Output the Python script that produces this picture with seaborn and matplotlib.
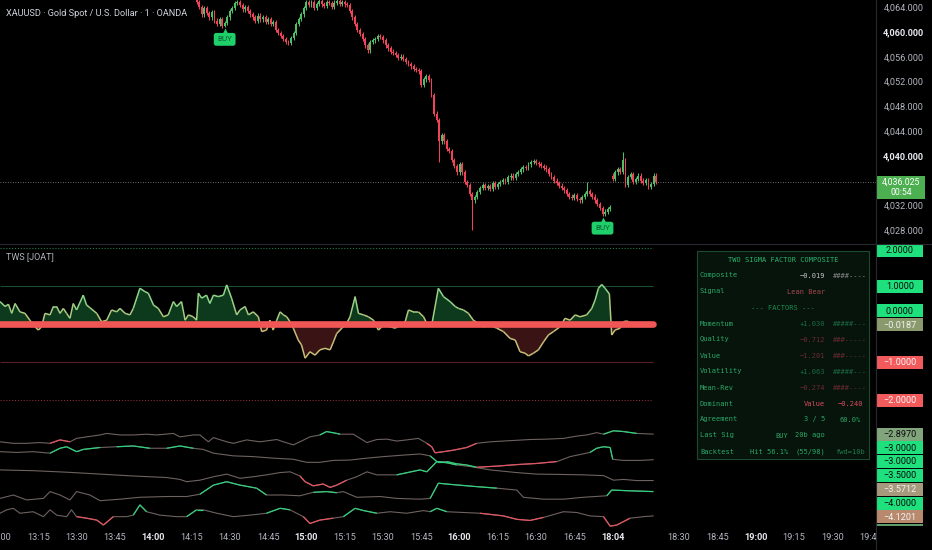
import numpy as np
import pandas as pd
import matplotlib
matplotlib.use("Agg")
import matplotlib.pyplot as plt
import seaborn as sns
import matplotlib.transforms as mtransforms
from matplotlib.collections import LineCollection
from matplotlib.patches import Rectangle
from matplotlib.lines import Line2D
from matplotlib.colors import LinearSegmentedColormap, Normalize

# ---------------------------------------------------------------- data
CANDLE_START = 76          # bar index of first candle (13:00 = bar 0, 1 bar per minute)
closes = [
    4066.0, 4065.0, 4064.2, 4063.0, 4064.0, 4063.2, 4062.5, 4063.4, 4062.0, 4061.5,
    4062.3, 4061.2, 4061.6, 4062.5, 4063.5, 4064.0, 4064.8, 4065.0, 4064.5, 4063.8,
    4064.2, 4063.5, 4063.0, 4062.5, 4062.0, 4062.8, 4062.2, 4062.6, 4061.8, 4062.3,
    4061.5, 4061.8, 4060.5, 4060.0, 4059.5, 4059.0, 4058.5, 4058.4, 4059.2, 4060.0,
    4061.5, 4062.3, 4063.0, 4064.0, 4065.0, 4064.5, 4065.0, 4064.0, 4064.7, 4065.2,
    4064.6, 4064.3, 4065.0, 4064.8, 4064.2, 4064.9, 4065.2, 4064.7, 4065.0, 4064.6,
    4064.5, 4063.5, 4062.5, 4061.5, 4060.5, 4059.8, 4059.0, 4058.0, 4057.2, 4058.5,
    4058.8, 4059.0, 4059.5, 4059.3, 4058.8, 4058.0, 4057.5, 4057.0, 4056.8, 4056.5,
    4056.0, 4056.2, 4055.8, 4055.3, 4055.0, 4054.6, 4054.2, 4054.0, 4053.8, 4051.6,
    4052.5, 4053.0, 4052.4, 4050.0, 4047.0, 4046.0, 4042.5, 4043.5, 4042.5, 4041.3,
    4041.0, 4039.5, 4038.5, 4037.5, 4038.8, 4037.5, 4036.0, 4035.5, 4034.0, 4033.0,
    4033.5, 4034.3, 4035.0, 4035.5, 4035.0, 4035.3, 4034.8, 4035.8, 4035.2, 4035.6,
    4036.0, 4036.3, 4036.0, 4036.7, 4037.0, 4036.6, 4037.3, 4037.6, 4038.0, 4038.4,
    4038.2, 4038.8, 4039.2, 4039.3, 4039.0, 4038.8, 4038.5, 4038.3, 4038.0, 4037.3,
    4036.8, 4036.2, 4035.8, 4035.4, 4035.0, 4034.6, 4034.0, 4033.6, 4033.4, 4033.8,
    4033.2, 4033.0, 4033.5, 4034.0, 4034.5, 4034.0, 4033.6, 4033.0, 4032.4, 4031.8,
    4030.8, 4031.2, 4031.6, 4031.9, 4036.5, 4037.5, 4038.0, 4037.6, 4039.5, 4035.5,
    4036.8, 4037.2, 4036.0, 4036.5, 4037.0, 4036.2, 4035.8, 4036.3, 4035.2, 4035.6,
    4037.0, 4036.025,
]
open_overrides = {240: 4037.0}
low_overrides = {88: 4060.9, 172: 4039.2, 185: 4028.3}
high_overrides = {230: 4036.0, 244: 4040.8}
WICK = 0.35
buy_bars = [88, 236]
last_price = 4036.025
bar_countdown = "00:54"

price_ticks = [4064, 4060, 4056, 4052, 4048, 4044, 4040, 4032, 4028]
bold_prices = [4060, 4040]

time_tick_idx = [0, 15, 30, 45, 60, 75, 90, 105, 120, 135, 150, 165, 180, 195, 210,
                 225, 240, 266, 281, 296, 311, 326, 341]
time_tick_labels = ["13:00", "13:15", "13:30", "13:45", "14:00", "14:15", "14:30", "14:45",
                    "15:00", "15:15", "15:30", "15:45", "16:00", "16:15", "16:30", "16:45",
                    "18:04", "18:30", "18:45", "19:00", "19:15", "19:30", "19:45"]
bold_times = ["14:00", "15:00", "16:00", "18:04", "19:00"]

osc_x = [0, 2.0, 3.3, 4.6, 5.9, 7.8, 9.8, 11.7, 13.1, 15.0,
         16.3, 17.6, 19.6, 20.9, 22.2, 23.5, 24.8, 26.1, 27.4, 28.7,
         30.0, 32.6, 33.9, 35.2, 37.9, 39.8, 41.8, 43.7, 45.7, 47.0,
         49.0, 50.9, 52.2, 54.8, 56.8, 58.1, 60.1, 62.0, 64.0, 65.9,
         67.9, 69.2, 71.1, 72.5, 73.8, 75.7, 77.0, 77.7, 79.0, 80.9,
         82.2, 83.6, 85.5, 87.5, 88.8, 90.7, 92.7, 94.0, 96.0, 97.3,
         99.2, 101.2, 102.5, 104.4, 105.7, 107.0, 108.4, 109.7, 111.0, 112.3,
         113.6, 114.9, 116.8, 118.1, 119.5, 121.4, 123.4, 125.3, 127.3, 129.3,
         130.6, 131.9, 133.9, 135.8, 137.1, 139.1, 140.4, 142.4, 144.3, 146.3,
         148.2, 150.2, 152.8, 154.8, 156.7, 158.7, 160.0, 161.9, 163.9, 165.9,
         167.8, 169.1, 171.7, 173.7, 176.3, 178.3, 179.6, 181.5, 183.5, 185.4,
         189.4, 192.0, 194.6, 197.2, 199.8, 201.8, 203.7, 205.7, 207.0, 208.9,
         210.9, 212.9, 214.8, 216.8, 219.4, 221.3, 223.3, 225.3, 227.2, 229.8,
         231.8, 233.1, 234.4, 235.7, 237.0, 238.7, 239.6, 240.9, 242.9, 244.2,
         245.5, 248.0, 252.0, 255.9]
osc_v = [0.59, 0.46, 0.52, 0.28, 0.54, 0.32, 0.28, 0.10, -0.03, -0.16,
         -0.07, 0.28, 0.24, 0.46, 0.46, 0.28, 0.41, 0.28, 0.15, 0.54,
         0.37, 0.76, 0.50, 0.43, 0.28, 0.06, 0.10, 0.37, 0.32, 0.41,
         0.28, 0.24, 0.41, 0.94, 0.85, 0.81, 0.50, 0.41, 0.19, 0.24,
         0.59, 0.46, 0.59, 0.10, 0.24, 0.19, 0.10, 0.81, 0.68, 0.76,
         0.54, 0.76, 0.72, 0.76, 1.03, 0.68, 0.24, 0.37, 0.46, 0.24,
         0.32, 0.19, -0.20, -0.16, 0.10, -0.16, 0.10, 0.32, 0.24, 0.19,
         0.06, -0.11, -0.42, -0.55, -0.90, -0.73, -0.82, -0.68, -0.64, -0.68,
         -0.47, -0.25, -0.11, 0.02, 0.19, 0.72, 0.28, 0.24, 0.19, 0.10,
         -0.16, -0.03, -0.07, -0.11, -0.03, 0.06, 0.37, 0.32, 0.32, 0.19,
         -0.07, -0.03, 0.94, 0.72, 0.59, 0.46, 0.41, 0.37, 0.28, 0.10,
         -0.07, -0.03, -0.11, -0.20, -0.38, -0.42, -0.73, -0.77, -0.84, -0.77,
         -0.68, -0.47, -0.29, -0.20, -0.07, 0.15, 0.10, 0.24, 0.19, 0.24,
         0.41, 0.63, 0.94, 1.04, 0.94, 0.79, -0.29, -0.16, -0.11, 0.06,
         0.08, -0.01, -0.02, -0.0187]
zero_line_value = 0.0
level_values = [2.0, 1.0, -1.0, -2.0]

# factor lines: (bar index, value, state n/g/r)
factor_a = [(0, -3.10, 'n'), (5.2, -3.14, 'n'), (10.4, -3.14, 'n'), (15.7, -3.12, 'n'), (19.6, -3.14, 'n'),
            (23.5, -3.05, 'r'), (27.4, -3.10, 'n'), (30.0, -3.01, 'n'), (33.9, -2.97, 'n'), (39.2, -2.92, 'n'),
            (41.8, -2.88, 'n'), (47.0, -2.92, 'n'), (52.2, -2.92, 'n'), (57.4, -2.90, 'n'), (61.4, -2.92, 'n'),
            (67.9, -2.88, 'n'), (70.5, -2.97, 'n'), (75.7, -2.92, 'n'), (78.3, -2.92, 'n'), (81.6, -3.10, 'n'),
            (83.6, -2.99, 'n'), (88.8, -3.10, 'n'), (91.4, -3.14, 'n'), (96.6, -3.05, 'n'), (101.8, -3.10, 'n'),
            (108.4, -3.04, 'n'), (111.0, -3.10, 'n'), (114.9, -3.18, 'n'), (117.5, -3.10, 'n'), (121.4, -2.97, 'n'),
            (125.3, -2.92, 'n'), (127.9, -2.83, 'g'), (131.9, -2.88, 'g'), (133.2, -2.90, 'n'), (138.4, -2.90, 'n'),
            (143.7, -3.12, 'n'), (147.6, -3.04, 'n'), (151.5, -3.03, 'n'), (155.4, -3.08, 'n'), (159.3, -3.05, 'n'),
            (163.9, -3.01, 'n'), (167.2, -3.14, 'n'), (169.1, -3.23, 'r'), (170.4, -3.39, 'r'), (173.7, -3.36, 'r'),
            (177.6, -3.32, 'r'), (182.8, -3.25, 'r'), (186.7, -3.14, 'n'), (192.0, -3.10, 'n'), (199.8, -3.07, 'n'),
            (207.6, -3.04, 'n'), (214.2, -3.03, 'n'), (220.7, -3.01, 'n'), (225.9, -2.95, 'n'), (229.8, -2.92, 'n'),
            (233.7, -2.86, 'n'), (236.4, -2.90, 'n'), (240.3, -2.81, 'g'), (244.2, -2.83, 'g'), (249.4, -2.88, 'n'),
            (255.9, -2.897, 'n')]
factor_b = [(0, -3.36, 'n'), (6.5, -3.38, 'n'), (13.0, -3.36, 'n'), (19.6, -3.40, 'n'), (23.5, -3.27, 'g'),
            (26.1, -3.23, 'g'), (30.0, -3.36, 'n'), (32.6, -3.30, 'g'), (39.2, -3.25, 'n'), (45.7, -3.23, 'n'),
            (52.2, -3.21, 'g'), (58.7, -3.27, 'n'), (65.3, -3.27, 'n'), (70.5, -3.21, 'g'), (75.7, -3.27, 'n'),
            (79.6, -3.30, 'n'), (83.6, -3.40, 'n'), (91.4, -3.47, 'n'), (99.2, -3.49, 'n'), (107.0, -3.53, 'n'),
            (114.9, -3.56, 'n'), (120.1, -3.64, 'n'), (125.3, -3.64, 'n'), (130.5, -3.59, 'n'), (137.1, -3.58, 'n'),
            (143.7, -3.53, 'n'), (150.2, -3.49, 'n'), (158.0, -3.45, 'n'), (164.5, -3.42, 'n'), (168.5, -3.47, 'n'),
            (171.1, -3.62, 'g'), (175.0, -3.62, 'g'), (178.9, -3.68, 'g'), (182.8, -3.71, 'g'), (186.7, -3.77, 'r'),
            (194.6, -3.74, 'r'), (202.4, -3.70, 'r'), (210.2, -3.67, 'r'), (218.1, -3.62, 'n'), (223.3, -3.49, 'n'),
            (231.1, -3.38, 'n'), (233.7, -3.27, 'g'), (236.4, -3.23, 'g'), (239.0, -3.25, 'g'), (240.0, -3.56, 'n'),
            (244.2, -3.59, 'n'), (250.7, -3.59, 'n'), (255.9, -3.5712, 'n')]
factor_c = [(0, -3.84, 'n'), (13.0, -3.86, 'n'), (26.1, -3.90, 'n'), (39.2, -3.95, 'n'), (52.2, -4.00, 'n'),
            (65.3, -4.04, 'n'), (70.5, -4.09, 'n'), (73.1, -4.15, 'n'), (78.3, -4.11, 'n'), (83.6, -4.02, 'n'),
            (88.8, -3.95, 'n'), (94.0, -4.06, 'n'), (99.2, -4.02, 'n'), (104.4, -3.97, 'n'), (109.7, -3.91, 'n'),
            (113.6, -3.89, 'n'), (117.5, -4.00, 'n'), (119.5, -4.15, 'r'), (122.7, -4.26, 'r'), (126.6, -4.21, 'r'),
            (129.3, -4.30, 'r'), (131.9, -4.24, 'r'), (135.8, -4.11, 'n'), (139.7, -4.02, 'n'), (143.7, -3.89, 'n'),
            (147.6, -3.97, 'n'), (155.4, -3.97, 'n'), (164.5, -3.84, 'g'), (167.2, -3.89, 'n'), (171.1, -3.62, 'g'),
            (175.0, -3.65, 'g'), (178.9, -3.71, 'n'), (184.1, -3.75, 'n'), (192.0, -3.84, 'n'), (202.4, -3.91, 'n'),
            (210.2, -3.95, 'n'), (220.7, -3.96, 'n'), (228.5, -3.97, 'n'), (236.4, -3.99, 'n'), (240.3, -4.11, 'n'),
            (244.2, -4.09, 'n'), (249.4, -4.12, 'n'), (255.9, -4.1201, 'n')]
factor_d = [(0, -4.59, 'n'), (5.2, -4.50, 'n'), (10.4, -4.63, 'n'), (17.0, -4.59, 'n'), (19.6, -4.41, 'n'),
            (23.5, -4.50, 'n'), (27.4, -4.63, 'n'), (30.0, -4.41, 'n'), (35.2, -4.50, 'n'), (39.2, -4.65, 'n'),
            (47.0, -4.61, 'n'), (54.8, -4.56, 'n'), (65.3, -4.54, 'n'), (73.1, -4.54, 'n'), (78.3, -4.48, 'n'),
            (83.6, -4.24, 'g'), (88.8, -4.15, 'g'), (94.0, -4.24, 'g'), (100.5, -4.32, 'g'), (104.4, -4.50, 'n'),
            (111.0, -4.50, 'n'), (117.5, -4.52, 'n'), (122.7, -4.43, 'n'), (127.9, -4.41, 'g'), (131.9, -4.44, 'n'),
            (134.5, -4.41, 'n'), (139.7, -4.56, 'n'), (148.9, -4.54, 'n'), (155.4, -4.59, 'n'), (164.5, -4.61, 'n'),
            (168.5, -4.59, 'n'), (171.7, -4.19, 'g'), (176.3, -4.22, 'g'), (186.7, -4.28, 'g'), (194.6, -4.32, 'n'),
            (202.4, -4.37, 'n'), (205.0, -4.56, 'n'), (212.9, -4.61, 'n'), (220.7, -4.61, 'n'), (228.5, -4.56, 'n'),
            (237.7, -4.52, 'n'), (239.6, -4.37, 'g'), (246.8, -4.39, 'g'), (255.9, -4.41, 'g')]
factor_e = [(0, -4.98, 'n'), (2.6, -4.89, 'n'), (5.2, -4.85, 'n'), (7.8, -4.98, 'n'), (13.0, -4.94, 'n'),
            (17.0, -5.07, 'n'), (19.6, -4.89, 'n'), (22.2, -5.03, 'n'), (26.1, -5.07, 'n'), (28.0, -4.89, 'n'),
            (30.0, -5.07, 'n'), (33.9, -5.11, 'r'), (37.9, -5.16, 'r'), (40.5, -5.29, 'r'), (44.4, -5.07, 'n'),
            (49.6, -5.07, 'n'), (52.2, -5.03, 'n'), (54.8, -4.76, 'g'), (57.4, -4.94, 'n'), (62.7, -5.03, 'n'),
            (69.2, -5.07, 'n'), (73.1, -5.07, 'n'), (77.0, -4.89, 'g'), (79.6, -4.89, 'n'), (84.9, -4.98, 'n'),
            (91.4, -5.07, 'n'), (97.9, -5.03, 'n'), (104.4, -4.98, 'n'), (109.7, -4.85, 'g'), (113.6, -4.89, 'n'),
            (118.8, -5.07, 'n'), (121.4, -5.25, 'r'), (125.3, -5.16, 'r'), (130.5, -5.11, 'n'), (134.5, -5.07, 'n'),
            (139.1, -4.85, 'g'), (142.4, -4.91, 'g'), (147.6, -4.98, 'n'), (152.8, -4.94, 'n'), (159.3, -4.98, 'n'),
            (165.9, -4.91, 'n'), (168.5, -4.94, 'n'), (171.1, -4.85, 'g'), (175.0, -4.94, 'n'), (181.5, -4.96, 'n'),
            (188.0, -4.98, 'n'), (197.2, -5.05, 'r'), (202.4, -5.14, 'r'), (207.6, -5.17, 'r'), (212.9, -5.09, 'n'),
            (220.7, -4.94, 'n'), (225.9, -4.96, 'n'), (231.1, -5.05, 'n'), (236.4, -5.07, 'n'), (239.0, -5.32, 'r'),
            (241.6, -5.29, 'r'), (246.8, -5.11, 'n'), (252.0, -5.07, 'n'), (255.9, -5.05, 'n')]

# right-scale labels of the indicator pane: (value, box colour, text colour)
upper_scale_labels = [(2.0, "#1ee07c", "#0c0c0c"), (1.0, "#1ee07c", "#0c0c0c"),
                      (0.0, "#1ee07c", "#0c0c0c"), (-0.0187, "#8b9a6c", "#f2f2f2"),
                      (-1.0, "#f25a5c", "#f6f6f6"), (-2.0, "#f25a5c", "#f6f6f6")]
lower_scale_labels = [(-2.897, "#82a47c", "#0c0c0c"), (-3.0, "#1ee07c", "#0c0c0c"),
                      (-3.0, "#1ee07c", "#0c0c0c"), (-3.5, "#1ee07c", "#0c0c0c"),
                      (-3.5712, "#a79a7c", "#f2f2f2"), (-4.0, "#1ee07c", "#0c0c0c"),
                      (-4.1201, "#b8896c", "#f2f2f2"), (-4.41, "#5f9c6c", "#0c0c0c")]

# table contents: (label, col2, col3, col4, colours)
G, GD, RD = "#2aa866", "#1d6a42", "#6e2a30"
table_title = "TWO SIGMA FACTOR COMPOSITE"
table_rows = [
    ("Composite", "", "\u22120.019", "####----", (G, G, "#c4c4c4", "#8a8a8a")),
    ("Signal", "", "Lean Bear", "", (G, G, "#a6464e", G)),
    ("--- FACTORS ---", None, None, None, ("#1f8a52",)),
    ("Momentum", "", "+1.030", "#####---", (G, G, GD, GD)),
    ("Quality", "", "\u22120.712", "###-----", (G, G, RD, RD)),
    ("Value", "", "\u22121.201", "###-----", (G, G, RD, RD)),
    ("Volatility", "", "+1.063", "#####---", (G, G, GD, GD)),
    ("Mean-Rev", "", "\u22120.274", "####----", (G, G, RD, RD)),
    ("Dominant", "", "Value", "\u22120.240", (G, G, "#dc4a62", "#dc4a62")),
    ("Agreement", "", "3 / 5", "60.0%", (G, G, G, G)),
    ("Last Sig", "BUY", "20b ago", "", (G, G, G, G)),
    ("Backtest", "Hit 56.1%", "(55/98)", "fwd=10b", (G, G, G, "#1f7a4c")),
]

# ---------------------------------------------------------------- style / layout
W, H, DPI = 932, 550, 100
BG = "#000000"
UP, DOWN = "#4fbf67", "#f0435a"
SEP = "#262a30"
AXIS_TXT = "#b2b5be"
AXIS_BOLD = "#e8eaf0"

MAIN_TOP, MAIN_BOT = 0, 243
IND_TOP, IND_BOT = 244, 527
PLOT_RIGHT = 876
PX_PER_BAR = 2.553
PX_PER_PRICE = 6.2
PRICE_TOP = 4065.32
PX_PER_UNIT = 38.0
IND_ZERO_PX = 324.0

sns.set_theme(style="dark", rc={"axes.facecolor": BG, "figure.facecolor": BG,
                                "axes.grid": False, "axes.edgecolor": BG})
plt.rcParams["font.family"] = ["Roboto", "DejaVu Sans"]


def fx(px):
    return px / W


def fy(py):
    return 1 - py / H


fig = plt.figure(figsize=(W / DPI, H / DPI), dpi=DPI)
fig.patch.set_facecolor(BG)

ax_main = fig.add_axes([0, fy(MAIN_BOT), fx(PLOT_RIGHT), (MAIN_BOT - MAIN_TOP) / H])
ax_ind = fig.add_axes([0, fy(IND_BOT), fx(PLOT_RIGHT), (IND_BOT - IND_TOP) / H])
ax_right = fig.add_axes([fx(PLOT_RIGHT), 0, 1 - fx(PLOT_RIGHT), 1], zorder=3)

# ---------------------------------------------------------------- candles
idx = np.arange(CANDLE_START, CANDLE_START + len(closes))
c = np.array(closes, dtype=float)
o = np.concatenate([[c[0] + 0.4], c[:-1]])
for k, v in open_overrides.items():
    o[k - CANDLE_START] = v
hi = np.maximum(o, c) + WICK
lo = np.minimum(o, c) - WICK
for k, v in high_overrides.items():
    hi[k - CANDLE_START] = v
for k, v in low_overrides.items():
    lo[k - CANDLE_START] = v
cols = np.where(c >= o, UP, DOWN)
ax_main.vlines(idx, lo, hi, colors=cols, lw=0.75, zorder=2)
ax_main.bar(idx, np.maximum(np.abs(c - o), 0.18), bottom=np.minimum(o, c), width=0.74,
            color=cols, lw=0, zorder=3)
ax_main.axhline(last_price, color="#8a8d96", lw=0.6, ls=(0, (1, 2)), zorder=1)

BUY_BG, BUY_TXT = "#1fcf6a", "#0b5f31"
for b in buy_bars:
    low = lo[b - CANDLE_START]
    ax_main.annotate("BUY", xy=(b, low), xytext=(0, -8.6), textcoords="offset points",
                     ha="center", va="center", fontsize=5.9, color=BUY_TXT,
                     bbox=dict(boxstyle="round,pad=0.42,rounding_size=0.3", fc=BUY_BG, ec="none"),
                     zorder=6, annotation_clip=False)
    tr = mtransforms.offset_copy(ax_main.transData, fig=fig, x=0, y=-2.6, units="points")
    ax_main.plot([b], [low], marker="^", ms=4.2, color=BUY_BG, mec="none", transform=tr, zorder=6)

# ---------------------------------------------------------------- indicator pane
ox = np.array(osc_x[:min(len(osc_x), len(osc_v))])
ov = np.array(osc_v[:len(ox)])
x_end = ox[-1]

ax_ind.fill_between(ox, ov, 0, where=ov >= 0, interpolate=True, color="#0d3a1c", lw=0, zorder=1)
ax_ind.fill_between(ox, ov, 0, where=ov <= 0, interpolate=True, color="#3a1315", lw=0, zorder=1)

level_colors = ["#1f7a4b", "#1b4d2f", "#5a1e26", "#8a2c3a"]
level_styles = [(0, (1, 1.6)), "-", "-", (0, (1, 1.6))]
for v, col, ls in zip(level_values, level_colors, level_styles):
    ax_ind.hlines(v, 0, x_end, colors=col, lw=0.8, linestyles=ls, zorder=1)

NEUTRAL, GREEN_L, RED_L = "#6e6260", "#2fd27d", "#e45561"
for pts in (factor_a, factor_b, factor_c, factor_d, factor_e):
    df = pd.DataFrame(pts, columns=["x", "v", "s"])
    sns.lineplot(data=df, x="x", y="v", ax=ax_ind, color=NEUTRAL, lw=0.8, sort=False, zorder=2)
    segs, scol = [], []
    for i in range(len(df) - 1):
        a, bb = df.s.iloc[i], df.s.iloc[i + 1]
        if "g" in (a, bb):
            col = GREEN_L
        elif "r" in (a, bb):
            col = RED_L
        else:
            continue
        segs.append([(df.x.iloc[i], df.v.iloc[i]), (df.x.iloc[i + 1], df.v.iloc[i + 1])])
        scol.append(col)
    ax_ind.add_collection(LineCollection(segs, colors=scol, lw=0.9, zorder=3))

pts = np.column_stack([ox, ov])
segs = np.stack([pts[:-1], pts[1:]], axis=1)
osc_cmap = LinearSegmentedColormap.from_list("osc", ["#c9bd7a", "#8dd68a"])
lc = LineCollection(segs, cmap=osc_cmap, norm=Normalize(0.0, 0.6), lw=1.1, zorder=3)
lc.set_array((ov[:-1] + ov[1:]) / 2)
ax_ind.add_collection(lc)

ax_ind.plot([0, x_end], [zero_line_value, zero_line_value], color="#f05656", lw=4.8,
            solid_capstyle="round", zorder=4)

# ---------------------------------------------------------------- axes cosmetics
for ax in (ax_main, ax_ind, ax_right):
    ax.set_facecolor(BG)
    for s in ax.spines.values():
        s.set_visible(False)
    ax.set_xlabel("")
    ax.set_ylabel("")
    ax.set_yticks([])
    ax.tick_params(length=0)
ax_main.set_xticks([])
ax_right.set_xticks([])
ax_right.spines["left"].set_visible(True)
ax_right.spines["left"].set_color(SEP)
ax_right.spines["left"].set_linewidth(0.8)

ax_main.set_xlim(0, PLOT_RIGHT / PX_PER_BAR)
ax_ind.set_xlim(0, PLOT_RIGHT / PX_PER_BAR)
ax_main.set_ylim(PRICE_TOP - (MAIN_BOT - MAIN_TOP) / PX_PER_PRICE, PRICE_TOP)
ax_ind.set_ylim((IND_ZERO_PX - IND_BOT) / PX_PER_UNIT, (IND_ZERO_PX - IND_TOP) / PX_PER_UNIT)

ax_ind.set_xticks(time_tick_idx)
ax_ind.set_xticklabels(time_tick_labels)
ax_ind.tick_params(axis="x", colors=AXIS_TXT, labelsize=6.6, pad=4.5, length=0)
for lbl in ax_ind.get_xticklabels():
    if lbl.get_text() in bold_times:
        lbl.set_fontweight("bold")
        lbl.set_color(AXIS_BOLD)

fig.add_artist(Line2D([0, 1], [fy(243.5), fy(243.5)], transform=fig.transFigure,
                      color=SEP, lw=0.8, zorder=4))

# ---------------------------------------------------------------- titles
fig.text(fx(6), fy(13), "XAUUSD \u00b7 Gold Spot / U.S. Dollar \u00b7 1 \u00b7 OANDA",
         color="#d1d4dc", fontsize=6.6, va="center", ha="left", zorder=5)
fig.text(fx(6), fy(257), "TWS [JOAT]", color=AXIS_TXT, fontsize=6.5, va="center", ha="left", zorder=5)

# ---------------------------------------------------------------- price scale
tr_price = mtransforms.blended_transform_factory(fig.transFigure, ax_main.transData)
for p in price_ticks:
    bold = p in bold_prices
    ax_right.text(fx(903.5), p, f"{p:,.3f}", transform=tr_price, ha="center", va="center",
                  fontsize=6.6, color=AXIS_BOLD if bold else AXIS_TXT,
                  fontweight="bold" if bold else "normal", clip_on=False)

py_last = H - ax_main.transData.transform((0, last_price))[1]
ax_right.add_artist(Rectangle((fx(877), fy(py_last + 17)), fx(925) - fx(877), 23 / H,
                              transform=fig.transFigure, fc="#4caf50", ec="none", clip_on=False))
ax_right.text(fx(901), fy(py_last + 0.5), f"{last_price:,.3f}", transform=fig.transFigure,
              ha="center", va="center", fontsize=6.3, color="#ffffff", clip_on=False)
ax_right.text(fx(901), fy(py_last + 11), bar_countdown, transform=fig.transFigure,
              ha="center", va="center", fontsize=6.3, color="#ffffff", clip_on=False)

# ---------------------------------------------------------------- indicator scale labels
def ind_px(v):
    return H - ax_ind.transData.transform((0, v))[1]


GAP = 13.8
clip_bb = mtransforms.TransformedBbox(
    mtransforms.Bbox.from_extents(fx(PLOT_RIGHT), fy(IND_BOT - 1), 1, fy(IND_TOP)), fig.transFigure)


def draw_scale_label(v, py, fc, tc):
    r = Rectangle((fx(877), fy(py + 6.5)), fx(923) - fx(877), 13 / H, transform=fig.transFigure,
                  fc=fc, ec="none")
    ax_right.add_artist(r)
    r.set_clip_box(clip_bb)
    t = ax_right.text(fx(900), fy(py + 0.3), f"{v:.4f}".replace("-", "\u2212"),
                      transform=fig.transFigure, ha="center", va="center", fontsize=6.6, color=tc)
    t.set_clip_box(clip_bb)
    t.set_clip_on(True)


# upper group: stacked upward from the bottom
prev = None
for v, fc, tc in sorted(upper_scale_labels, key=lambda t: t[0]):
    y = ind_px(v)
    if prev is not None and y > prev - GAP:
        y = prev - GAP
    y = max(y, IND_TOP + 6.5)
    draw_scale_label(v, y, fc, tc)
    prev = y

# lower group: stacked downward from the top
prev = None
for v, fc, tc in sorted(lower_scale_labels, key=lambda t: -t[0]):
    y = ind_px(v)
    if prev is not None and y < prev + GAP:
        y = prev + GAP
    draw_scale_label(v, y, fc, tc)
    prev = y

# ---------------------------------------------------------------- table
TBL_L, TBL_R, TBL_T, TBL_B = 697, 869, 251, 459
fig.add_artist(Rectangle((fx(TBL_L), fy(TBL_B)), fx(TBL_R) - fx(TBL_L), (TBL_B - TBL_T) / H,
                         transform=fig.transFigure, fc="#06140c", ec="#1d4a30", lw=0.8, zorder=5))
MONO = dict(family="DejaVu Sans Mono", fontsize=5.0, va="center", zorder=6)
fig.text(fx(783), fy(259.5), table_title, color="#2db36f", ha="center", **MONO)
for r, (lab, c2, c3, c4, colors) in enumerate(table_rows):
    y = fy(275.5 + 16 * r)
    if c2 is None:
        fig.text(fx(783), y, lab, color=colors[0], ha="center", **MONO)
        continue
    fig.text(fx(700), y, lab, color=colors[0], ha="left", **MONO)
    if c2:
        fig.text(fx(788), y, c2, color=colors[1], ha="right", **MONO)
    if c3:
        fig.text(fx(825), y, c3, color=colors[2], ha="right", **MONO)
    if c4:
        fig.text(fx(850), y, c4, color=colors[3], ha="center", **MONO)

fig.savefig("out.png", dpi=DPI, facecolor=BG)
